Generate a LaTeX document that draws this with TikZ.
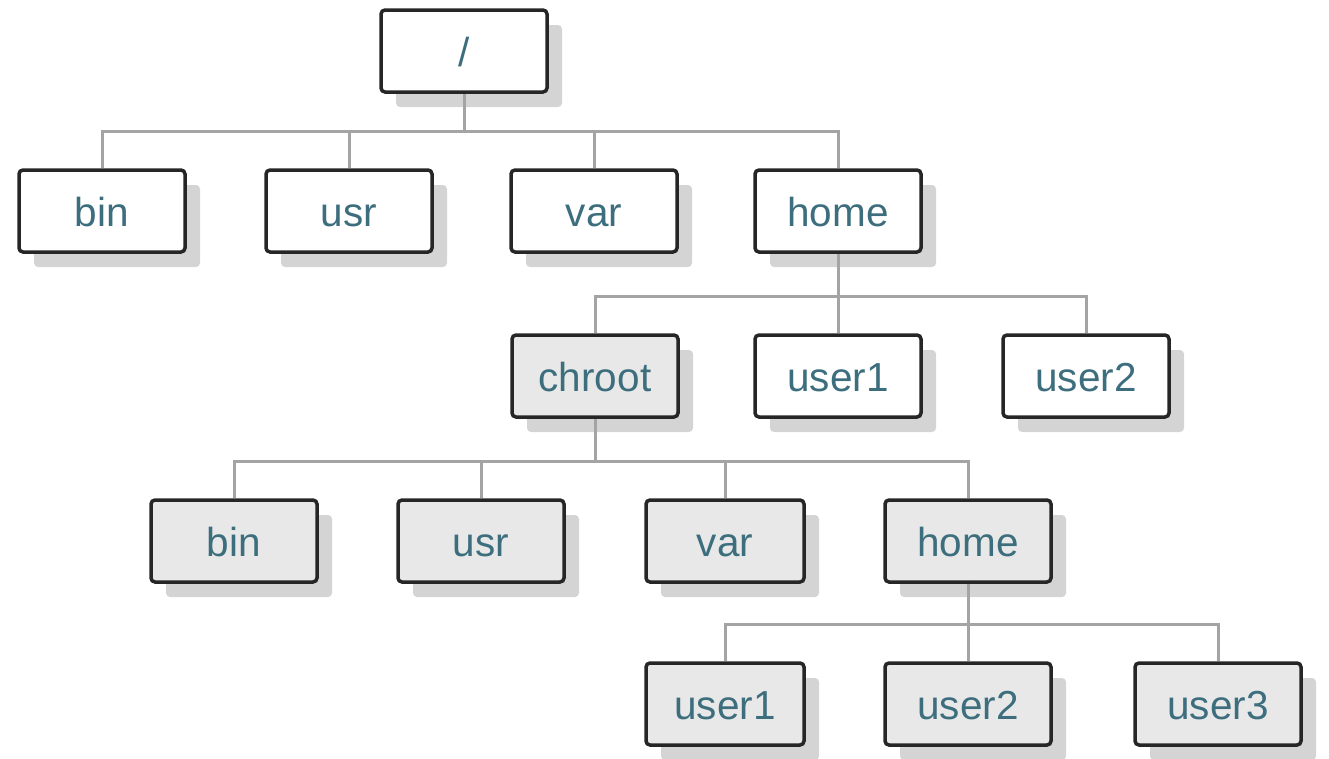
\documentclass[tikz,border=0pt]{standalone}
\usepackage{fontspec}
\setmainfont{Liberation Sans}
\usetikzlibrary{shadows}
\definecolor{txt}{HTML}{3D6E7E}
\definecolor{conn}{HTML}{A4A4A4}
\definecolor{shd}{HTML}{D4D4D4}
\definecolor{gfill}{HTML}{E8E8E8}
\tikzset{
  dir/.style={draw=black!85, line width=3.5pt, rounded corners=4pt, fill=white,
    minimum width=166pt, minimum height=82pt, inner sep=0pt,
    text height=30pt, text depth=0pt,
    text=txt, font=\fontsize{40.5}{40}\selectfont,
    drop shadow={shadow xshift=15pt, shadow yshift=-15pt, fill=shd, opacity=1}},
  gdir/.style={dir, fill=gfill},
  link/.style={draw=conn, line width=3pt}
}
\begin{document}
\begin{tikzpicture}[x=1pt,y=-1pt]
\useasboundingbox (0,0) rectangle (1329,758);
\node[dir] (root) at (464,51) {/};
\node[dir] (bin) at (102,211) {bin};
\node[dir] (usr) at (349,211) {usr};
\node[dir] (var) at (594,211) {var};
\node[dir] (home) at (838,211) {home};
\node[gdir] (chroot) at (595,376) {chroot};
\node[dir] (u1) at (838,376) {user1};
\node[dir] (u2) at (1086,376) {user2};
\node[gdir] (cbin) at (234,541) {bin};
\node[gdir] (cusr) at (481,541) {usr};
\node[gdir, minimum width=158pt] (cvar) at (725,541) {var};
\node[gdir] (chome) at (968,541) {home};
\node[gdir, minimum width=158pt] (cu1) at (725,704) {user1};
\node[gdir] (cu2) at (968,704) {user2};
\node[gdir] (cu3) at (1218,704) {user3};
% connectors
\draw[link] (root.south) -- ++(0,38) -| (bin.north);
\draw[link] (root.south) ++(0,38) -| (usr.north);
\draw[link] (root.south) ++(0,38) -| (var.north);
\draw[link] (root.south) ++(0,38) -| (home.north);
\draw[link] (home.south) -- ++(0,43) -| (chroot.north);
\draw[link] (home.south) ++(0,43) -| (u1.north);
\draw[link] (home.south) ++(0,43) -| (u2.north);
\draw[link] (chroot.south) -- ++(0,43) -| (cbin.north);
\draw[link] (chroot.south) ++(0,43) -| (cusr.north);
\draw[link] (chroot.south) ++(0,43) -| (cvar.north);
\draw[link] (chroot.south) ++(0,43) -| (chome.north);
\draw[link] (chome.south) -- ++(0,41) -| (cu1.north);
\draw[link] (chome.south) ++(0,41) -| (cu2.north);
\draw[link] (chome.south) ++(0,41) -| (cu3.north);
\end{tikzpicture}
\end{document}
